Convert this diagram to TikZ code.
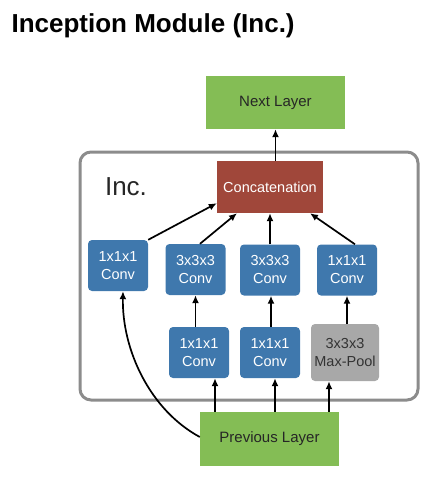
\documentclass[tikz,border=0pt]{standalone}
\usepackage{fontspec}
\setmainfont{Liberation Sans}
\usetikzlibrary{arrows.meta,calc}
\definecolor{lgreen}{HTML}{84BD55}
\definecolor{lblue}{HTML}{3F78AD}
\definecolor{lred}{HTML}{A0473A}
\definecolor{lgray}{HTML}{A8A8A8}
\definecolor{frame}{HTML}{8C8C8C}
\tikzset{
  box/.style={rectangle, inner sep=0pt, align=center, font=\fontsize{14.5}{18}\selectfont},
  greenbox/.style={box, fill=lgreen, text=black!85, font=\fontsize{15}{18}\selectfont},
  bluebox/.style={box, fill=lblue, text=white, rounded corners=4pt, minimum width=60pt, minimum height=51pt},
  graybox/.style={box, fill=lgray, text=black!80, rounded corners=4pt},
  redbox/.style={box, fill=lred, text=white},
  arr/.style={-{Latex[length=8pt,width=7pt]}, line width=1.7pt, black}
}
\begin{document}
\begin{tikzpicture}[x=1pt,y=-1pt]
\useasboundingbox (0,0) rectangle (430,480);
\node[anchor=base west, font=\bfseries\fontsize{26}{30}\selectfont] (title) at (8,32) {Inception Module (Inc.)};
\draw[frame, line width=3pt, rounded corners=11pt] (80,152) rectangle (418,400);
\node[font=\fontsize{26}{30}\selectfont, text=black!85] (inc) at (126,187) {Inc.};
\node[greenbox, minimum width=139pt, minimum height=53pt] (next) at (275.5,102.5) {Next Layer};
\node[redbox, minimum width=106pt, minimum height=52pt] (concat) at (270,187) {Concatenation};
\node[bluebox] (b1) at (118,265.5) {1x1x1\\Conv};
\node[bluebox] (b2) at (195.5,269.5) {3x3x3\\Conv};
\node[bluebox] (b3) at (270,270) {3x3x3\\Conv};
\node[bluebox] (b4) at (347,270) {1x1x1\\Conv};
\node[bluebox] (b5) at (199,352.5) {1x1x1\\Conv};
\node[bluebox] (b6) at (270,352.5) {1x1x1\\Conv};
\node[graybox, minimum width=68pt, minimum height=57pt] (pool) at (345,352.5) {3x3x3\\Max-Pool};
\node[greenbox, minimum width=139pt, minimum height=54pt] (prev) at (269.5,439) {Previous Layer};
% arrows
\draw[arr] (next.south |- concat.north) -- (next.south);
\draw[arr] (b1.north east) -- ([yshift=10pt]concat.south west);
\draw[arr] ([xshift=4.5pt]b2.north) -- ([xshift=-33pt]concat.south);
\draw[arr] (b3.north) -- (concat.south -| b3.north);
\draw[arr] ([xshift=8pt]b4.north) -- ([xshift=40pt]concat.south);
\draw[arr] (b2.south |- b5.north) -- (b2.south);
\draw[arr] ([xshift=1pt]b6.north) -- ([xshift=1pt]b3.south);
\draw[arr] (b4.south |- pool.north) -- (b4.south);
\draw[arr] ([xshift=16pt]b5.south |- prev.north) -- ([xshift=16pt]b5.south);
\draw[arr] ([xshift=5pt]b6.south |- prev.north) -- ([xshift=5pt]b6.south);
\draw[arr] ([xshift=-16pt]pool.south |- prev.north) -- ([xshift=-16pt]pool.south);
\draw[arr] ([yshift=2pt]prev.west) .. controls (150,410) and (122,350) .. ([xshift=5pt]b1.south);
\end{tikzpicture}
\end{document}
